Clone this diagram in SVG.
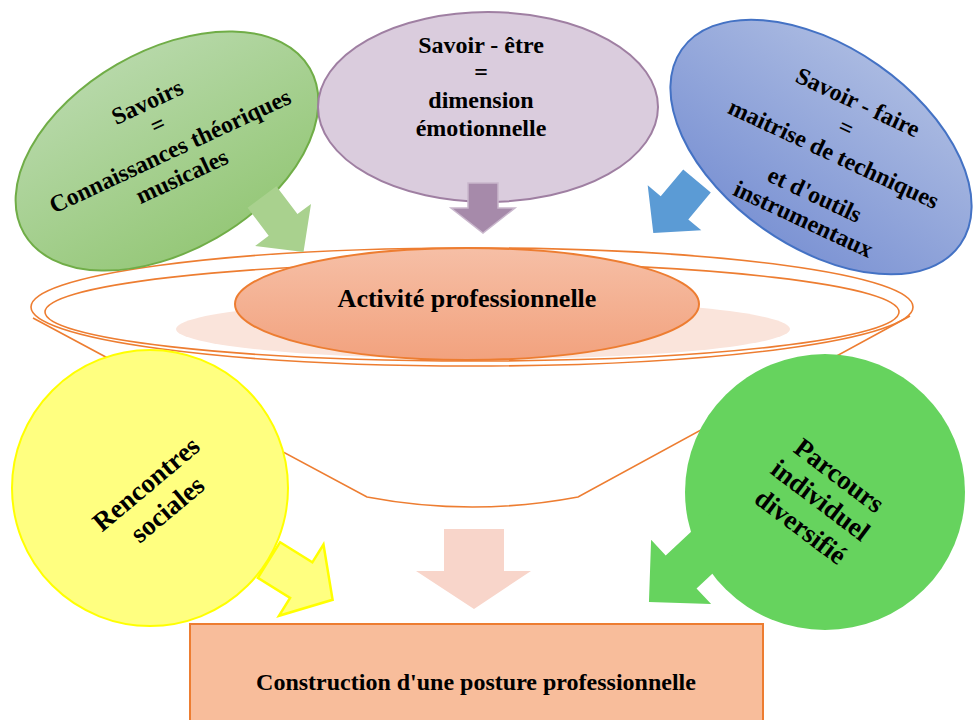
<svg xmlns="http://www.w3.org/2000/svg" width="974" height="720" viewBox="0 0 974 720">
<defs>
<linearGradient id="gGreen" x1="0" y1="0" x2="0" y2="1"><stop offset="0" stop-color="#B6D8A8"/><stop offset="1" stop-color="#96C879"/></linearGradient>
<linearGradient id="gBlue" x1="0" y1="0" x2="0" y2="1"><stop offset="0" stop-color="#A9B9E1"/><stop offset="1" stop-color="#7D94D4"/></linearGradient>
<linearGradient id="gAct" x1="0" y1="0" x2="0" y2="1"><stop offset="0" stop-color="#F6BFA6"/><stop offset="1" stop-color="#F2A27E"/></linearGradient>
</defs>
<style>
.t{font-family:"Liberation Serif","Times New Roman",serif;font-weight:bold;fill:#000;text-anchor:middle}
.f24{font-size:24px}
.f26{font-size:26px}
.f27{font-size:27px}
.rim{fill:none;stroke:#ED7D31;stroke-width:1.6}
</style>
<rect width="974" height="720" fill="#FFFFFF"/>
<g id="funnel">
<path class="rim" d="M33,318 L367,497 Q472,517 578,497 L910,316"/>
<ellipse class="rim" cx="472" cy="307" rx="441" ry="59"/>
<ellipse class="rim" cx="472" cy="312" rx="427" ry="49"/>
<ellipse cx="483" cy="329" rx="307" ry="30" fill="#FAE4DB"/>
</g>
<g id="node-activite">
<ellipse cx="467" cy="304" rx="232" ry="56" fill="url(#gAct)" stroke="#ED7D31" stroke-width="2"/>
<text class="t f26" x="467" y="307">Activité professionnelle</text>
</g>
<g id="node-savoirs">
<ellipse cx="167" cy="151" rx="165" ry="100" transform="rotate(-30 167 151)" fill="url(#gGreen)" stroke="#70AD47" stroke-width="2"/>
<g transform="translate(165,140) rotate(-25)">
<text class="t f24" x="0" y="-34">Savoirs</text>
<text class="t f24" x="0" y="-9">=</text>
<text class="t f24" x="0" y="20">Connaissances théoriques</text>
<text class="t f24" x="0" y="48">musicales</text>
</g>
</g>
<g id="node-savoir-etre">
<ellipse cx="488" cy="107" rx="170" ry="95" fill="#DACCDD" stroke="#9F7FA2" stroke-width="2"/>
<text class="t f24" x="481" y="53">Savoir - être</text>
<text class="t f24" x="481" y="80">=</text>
<text class="t f24" x="481" y="108">dimension</text>
<text class="t f24" x="481" y="136">émotionnelle</text>
</g>
<g id="node-savoir-faire">
<ellipse cx="821" cy="147" rx="170" ry="100" transform="rotate(35 821 147)" fill="url(#gBlue)" stroke="#4472C4" stroke-width="2"/>
<g transform="translate(830,162) rotate(25)">
<text class="t f24" x="0" y="-58">Savoir - faire</text>
<text class="t f24" x="0" y="-30">=</text>
<text class="t f24" x="0" y="-1">maitrise de techniques</text>
<text class="t f24" x="0" y="44">et d'outils</text>
<text class="t f24" x="0" y="71">instrumentaux</text>
</g>
</g>
<g id="node-rencontres">
<circle cx="150" cy="488" r="138" fill="#FFFF80" stroke="#FFFF00" stroke-width="2"/>
<g transform="translate(157,497) rotate(-40)">
<text class="t f27" x="0" y="-8">Rencontres</text>
<text class="t f27" x="0" y="25">sociales</text>
</g>
</g>
<g id="node-parcours">
<ellipse cx="825" cy="492" rx="140" ry="138" fill="#66D35E"/>
<g transform="translate(820,501) rotate(37)">
<text class="t f27" x="0" y="-23">Parcours</text>
<text class="t f27" x="0" y="8">individuel</text>
<text class="t f27" x="0" y="41">diversifié</text>
</g>
</g>
<g id="node-construction">
<rect x="190" y="624" width="573" height="110" fill="#F8BD9B" stroke="#ED7D31" stroke-width="2"/>
<text class="t f24" x="476" y="690">Construction d'une posture professionnelle</text>
</g>
<g id="connectors">
<polygon transform="translate(262,197) rotate(53)" points="0,-18 35,-18 35,-35 69,0 35,35 35,18 0,18" fill="#A9D18E"/>
<polygon points="468,183 498,183 498,208 515,208 483,233 451,208 468,208" fill="#A68AAA" stroke="#C9B7CC" stroke-width="1.5"/>
<polygon transform="translate(697,181) rotate(130)" points="0,-18 35,-18 35,-35 68,0 35,35 35,18 0,18" fill="#5B9BD5"/>
<polygon transform="translate(269,560) rotate(32)" points="0,-21 38,-21 38,-42 75,0 38,42 38,21 0,21" fill="#FFFF80" stroke="#FFFF00" stroke-width="2.5"/>
<polygon transform="translate(725,531) rotate(137)" points="0,-22.6 60,-22.6 60,-44 104,0 60,44 60,22.6 0,22.6" fill="#66D35E"/>
<polygon points="444,529 504,529 504,571 531,571 474,609 416,571 444,571" fill="#F8D5CA"/>
</g>
</svg>
